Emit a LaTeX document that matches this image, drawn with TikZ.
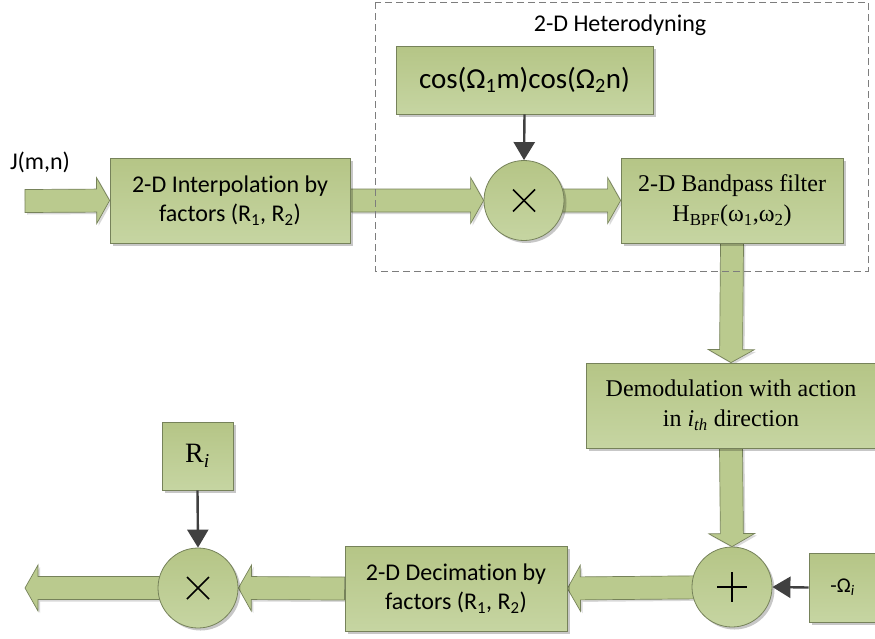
\documentclass[tikz,border=0pt]{standalone}
\usepackage{fontspec}
\setmainfont{Liberation Serif}
\newfontfamily\calfont[Ligatures=NoCommon]{Carlito}
\usetikzlibrary{calc,shadows,backgrounds,arrows.meta}
\definecolor{edgec}{RGB}{118,130,90}
\definecolor{gtop}{RGB}{181,197,134}
\definecolor{gbot}{RGB}{198,213,162}
\definecolor{arrc}{RGB}{186,202,142}
\definecolor{thinc}{RGB}{64,64,64}
\definecolor{dashc}{RGB}{125,125,125}
\newcommand\fatw{11.5pt}
\newcommand\fath{23pt}
\newcommand\fatl{13pt}
\newcommand\fatarrow[2]{%
  \path (#2) coordinate (fa-t) ($(#2)!\fatl!(#1)$) coordinate (fa-h) (#1) coordinate (fa-s);
  \filldraw[fatstyle] ($(fa-s)!\fatw!90:(fa-t)$) -- ($(fa-h)!\fatw!90:(fa-t)$) -- ($(fa-h)!\fath!90:(fa-t)$) -- (fa-t) -- ($(fa-h)!\fath!-90:(fa-t)$) -- ($(fa-h)!\fatw!-90:(fa-t)$) -- ($(fa-s)!\fatw!-90:(fa-t)$) -- cycle;%
}
\tikzset{
  fatstyle/.style={fill=arrc, draw=edgec, line width=0.7pt,
    drop shadow={shadow xshift=2pt, shadow yshift=-2pt, fill=black, opacity=0.15}},
  blk/.style={draw=edgec, line width=0.8pt, top color=gtop, bottom color=gbot,
    drop shadow={shadow xshift=2.5pt, shadow yshift=-2.5pt, fill=black, opacity=0.22},
    inner sep=0pt, align=center},
  sansblk/.style={blk, font=\calfont\fontsize{24}{29}\selectfont},
  serifblk/.style={blk, font=\fontsize{24}{30}\selectfont},
  mixer/.style={blk, circle, minimum size=80pt},
  thinarrow/.style={draw=thinc, line width=2.4pt, -{Triangle[width=21pt,length=18pt]}},
  sym/.style={line width=1.6pt, draw=black},
  lbl/.style={font=\calfont\fontsize{24}{29}\selectfont, inner sep=0pt}
}
\begin{document}
\begin{tikzpicture}[x=1pt,y=-1pt]
\useasboundingbox (0,0) rectangle (875,638);

% dashed group
\draw[dashc, line width=0.9pt, dash pattern=on 7pt off 4pt] (375,2) rectangle (868,271);
\node[lbl] (het) at (620,25) {2-D Heterodyning};

% nodes
\node[lbl] (jmn) at (40,162) {J(m,n)};
\coordinate (in) at (25,201);
\node[sansblk, minimum width=240pt, minimum height=85pt] (interp) at (230,200.5)
  {2-D Interpolation by\\factors (R\textsubscript{1}, R\textsubscript{2})};
\node[blk, font=\calfont\fontsize{29}{34}\selectfont, minimum width=257pt, minimum height=68pt] (cos) at (524.5,80)
  {cos(Ω\textsubscript{1}m)cos(Ω\textsubscript{2}n)};
\node[mixer] (m1) at (524,200.5) {};
\node[serifblk, minimum width=222pt, minimum height=85pt] (bpf) at (732,200.5)
  {2-D Bandpass filter\\H\textsubscript{BPF}(ω\textsubscript{1},ω\textsubscript{2})};
\node[serifblk, minimum width=290pt, minimum height=85pt] (demod) at (731,405.5)
  {Demodulation with action\\in \textit{i}\textsubscript{\textit{th}} direction};
\node[mixer] (plus) at (732,587) {};
\node[blk, font=\calfont\fontsize{21}{25}\selectfont, minimum width=67pt, minimum height=69pt] (om) at (842.5,587.5)
  {-Ω\textsubscript{\textit{i}}};
\node[sansblk, minimum width=222pt, minimum height=85pt] (dec) at (456,588.5)
  {2-D Decimation by\\factors (R\textsubscript{1}, R\textsubscript{2})};
\node[mixer] (m2) at (198,588) {};
\node[blk, font=\fontsize{28}{32}\selectfont, minimum width=71pt, minimum height=68pt] (ri) at (197.5,456)
  {R\textsubscript{\textit{i}}};
\coordinate (out) at (25,588);

% symbols inside circles
\draw[sym] ($(m1.center)+(-11,-11)$) -- ($(m1.center)+(11,11)$);
\draw[sym] ($(m1.center)+(-11,11)$) -- ($(m1.center)+(11,-11)$);
\draw[sym] ($(m2.center)+(-11,-11)$) -- ($(m2.center)+(11,11)$);
\draw[sym] ($(m2.center)+(-11,11)$) -- ($(m2.center)+(11,-11)$);
\draw[sym] ($(plus.center)+(-15,0)$) -- ($(plus.center)+(15,0)$);
\draw[sym] ($(plus.center)+(0,-15)$) -- ($(plus.center)+(0,15)$);

% fat arrows
\begin{scope}[on background layer]
\fatarrow{in}{interp.west}
\fatarrow{interp.east}{m1.west}
\fatarrow{m1.center}{bpf.west}
\fatarrow{bpf.south}{demod.north}
\fatarrow{demod.south}{plus.north}
\fatarrow{plus.center}{dec.east}
\fatarrow{dec.west}{m2.east}
\fatarrow{m2.center}{out}
\end{scope}

% thin arrows
\draw[thinarrow] (cos.south) -- (m1.north);
\draw[thinarrow] (ri.south) -- (m2.north);
\draw[thinarrow] (om.west) -- (plus.east);
\end{tikzpicture}
\end{document}
